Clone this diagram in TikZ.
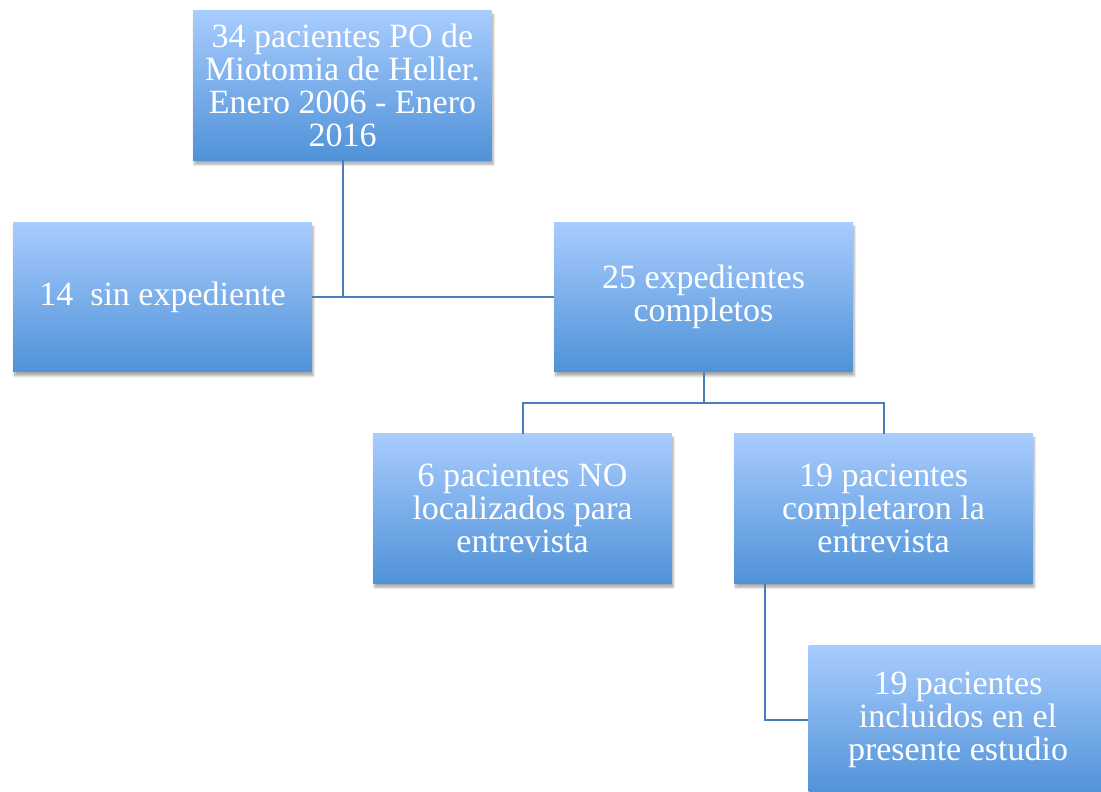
\documentclass[tikz,border=0pt]{standalone}
\usepackage{fontspec}
\setmainfont{Liberation Serif}
\usetikzlibrary{shadows.blur}
\definecolor{topblue}{RGB}{168,204,254}
\definecolor{botblue}{RGB}{80,146,216}
\definecolor{linkblue}{RGB}{74,126,187}
\tikzset{
  flowbox/.style={rectangle, minimum width=224pt, minimum height=112pt, inner sep=2pt,
    top color=topblue, bottom color=botblue, draw=none, text=white, align=center,
    font=\fontsize{25.5}{24.75}\selectfont,
    blur shadow={shadow xshift=1pt, shadow yshift=-3pt, shadow blur steps=6, shadow opacity=35}},
  link/.style={draw=linkblue, line width=1.5pt}
}
\begin{document}
\begin{tikzpicture}[x=0.75pt,y=-0.75pt]
\useasboundingbox (0,0) rectangle (1101,792);
\node[flowbox] (top) at (342.5,85.5) {34 pacientes PO de\\Miotomia de Heller.\\Enero 2006 - Enero\\2016};
\node[flowbox] (left) at (162.5,297) {14\ \ sin expediente};
\node[flowbox] (c25) at (703.5,297) {25 expedientes\\completos};
\node[flowbox] (no) at (522.5,508.5) {6 pacientes NO\\localizados para\\entrevista};
\node[flowbox] (si) at (883.5,508.5) {19 pacientes\\completaron la\\entrevista};
\node[flowbox] (incl) at (958,720) {19 pacientes\\incluidos en el\\presente estudio};
\coordinate (j) at (703.5,403);
\coordinate (k) at (765,583);
\draw[link] (top.south) -- (top.south |- left.east);
\draw[link] (left.east) -- (c25.west);
\draw[link] (c25.south) -- (j);
\draw[link] (no.north) -- ++(0,-31) -| (si.north);
\draw[link] (k) |- (incl.west);
\end{tikzpicture}
\end{document}
